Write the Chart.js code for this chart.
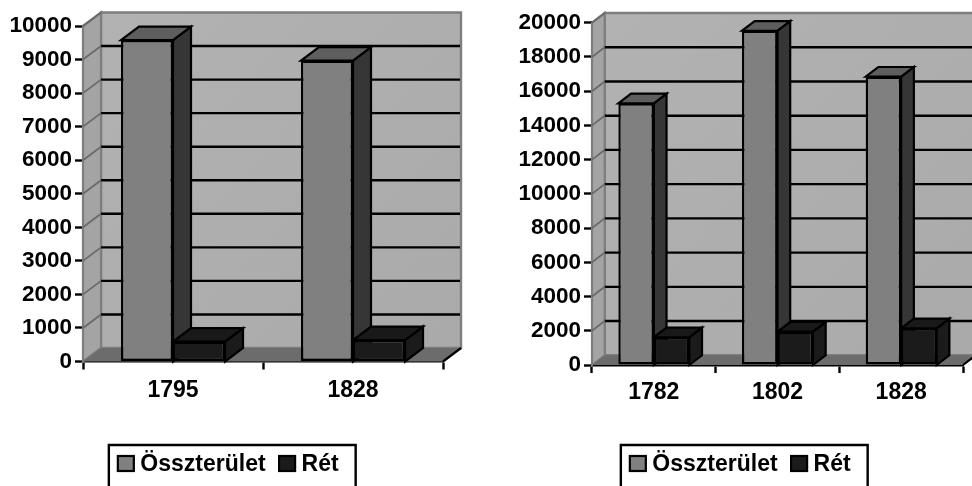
<!DOCTYPE html>
<html><head><meta charset="utf-8">
<script src="https://cdn.jsdelivr.net/npm/chart.js@4"></script>
<style>
html,body{margin:0;padding:0;background:#fff;overflow:hidden;width:972px;height:486px}
.wrap{position:absolute;top:0;height:486px;filter:blur(0.45px)}
</style></head><body>
<div class="wrap" style="left:8px;width:465px"><canvas id="c1"></canvas></div>
<div class="wrap" style="left:517px;width:455px"><canvas id="c2"></canvas></div>
<script>
const seriesNames = ['Összterület', 'Rét'];
const leftCategories = ['1795', '1828'];
const leftTotal = [9580, 8970];
const leftMeadow = [590, 640];
const rightCategories = ['1782', '1802', '1828'];
const rightTotal = [15290, 19530, 16845];
const rightMeadow = [1620, 1945, 2145];

const FONT = '"Liberation Sans", Arial, sans-serif';
const SKIN = [
  {front:'#808080', side:'#363636', top:'#5e5e5e'},
  {front:'#1b1b1b', side:'#1b1b1b', top:'#191919'}
];

function poly(ctx, pts, fill, stroke, lw){
  ctx.beginPath();
  pts.forEach((p,i)=> i?ctx.lineTo(p[0],p[1]):ctx.moveTo(p[0],p[1]));
  ctx.closePath();
  if(fill){ctx.fillStyle=fill;ctx.fill();}
  if(stroke){ctx.strokeStyle=stroke;ctx.lineWidth=lw;ctx.lineJoin='miter';ctx.stroke();}
}

const box3d = {
  id:'box3d',
  afterLayout(chart, args, o){
    chart.legend.left += o.legendShift;
    chart.legend.right += o.legendShift;
  },
  beforeDatasetsDraw(chart, args, o){
    const {ctx, chartArea:a, scales:{y}} = chart;
    const dx=o.dx, dy=o.dy;
    ctx.save();
    const grad = ctx.createLinearGradient(a.left+dx,a.top-dy,a.right+dx,a.bottom-dy);
    grad.addColorStop(0,'#b2b2b2'); grad.addColorStop(1,'#aaaaaa');
    poly(ctx,[[a.left+dx,a.top-dy],[a.right+dx,a.top-dy],[a.right+dx,a.bottom-dy],[a.left+dx,a.bottom-dy]],grad,'#7e7e7e',2.4);
    poly(ctx,[[a.left,a.top],[a.left+dx,a.top-dy],[a.left+dx,a.bottom-dy],[a.left,a.bottom]],'#a4a4a4','#7e7e7e',2.2);
    poly(ctx,[[a.left,a.bottom],[a.right,a.bottom],[a.right+dx,a.bottom-dy],[a.left+dx,a.bottom-dy]],'#6c6c6c');
    ctx.strokeStyle='#000';ctx.lineWidth=2.2;
    ctx.beginPath();ctx.moveTo(a.right,a.bottom);ctx.lineTo(a.right+dx,a.bottom-dy);ctx.stroke();
    y.ticks.forEach(t=>{
      const py=y.getPixelForValue(t.value);
      if(t.value===y.min) return;
      if(t.value!==y.max){
        ctx.strokeStyle='#000';ctx.lineWidth=2.4;
        ctx.beginPath();ctx.moveTo(a.left+dx,py-dy);ctx.lineTo(a.right+dx-1,py-dy);ctx.stroke();
      }
      ctx.strokeStyle='#6a6a6a';ctx.lineWidth=1.8;
      ctx.beginPath();ctx.moveTo(a.left,py);ctx.lineTo(a.left+dx,py-dy);ctx.stroke();
    });
    const n=chart.data.labels.length;
    for(let i=0;i<n;i++){
      chart.data.datasets.forEach((ds,d)=>{
        const el=chart.getDatasetMeta(d).data[i];
        const half=el.width/2, L=el.x-half, R=el.x+half, T=el.y, B=y.getPixelForValue(0);
        const s=SKIN[d];
        poly(ctx,[[R,B],[R+dx,B-dy],[R+dx,T-dy],[R,T]],s.side,'#000',2.2);
        poly(ctx,[[L,T],[R,T],[R+dx,T-dy],[L+dx,T-dy]],s.top,'#000',2.2);
      });
    }
    ctx.restore();
  },
  afterDraw(chart){
    const {ctx, legend} = chart;
    const hb=legend.legendHitBoxes;
    ctx.save();
    const first=hb[0], last=hb[hb.length-1];
    const x0=first.left-8.5, x1=last.left+last.width+17, yT=first.top-8;
    ctx.strokeStyle='#000';ctx.lineWidth=2.4;
    ctx.beginPath();ctx.moveTo(x0,chart.height);ctx.lineTo(x0,yT);ctx.lineTo(x1,yT);ctx.lineTo(x1,chart.height);ctx.stroke();
    hb.forEach((h,i)=>{
      ctx.fillStyle=SKIN[i].front;ctx.strokeStyle='#000';ctx.lineWidth=2.2;
      ctx.fillRect(h.left+.5,h.top+3,16,15);ctx.strokeRect(h.left+.5,h.top+3,16,15);
    });
    ctx.restore();
  }
};

function makeChart(id, labels, total, meadow, cfg){
  return new Chart(document.getElementById(id),{
    type:'bar',
    plugins:[box3d],
    data:{labels,datasets:[
      {label:seriesNames[0],data:total,backgroundColor:SKIN[0].front,borderColor:'#000',borderWidth:2.4,borderSkipped:false},
      {label:seriesNames[1],data:meadow,backgroundColor:SKIN[1].front,borderColor:'#000',borderWidth:2.4,borderSkipped:false}
    ]},
    options:{
      responsive:true,maintainAspectRatio:false,animation:false,
      layout:{padding:{top:cfg.top,right:cfg.right,left:0,bottom:0}},
      datasets:{bar:{categoryPercentage:cfg.cat,barPercentage:1}},
      plugins:{
        tooltip:{enabled:false},title:{display:false},
        box3d:{dx:cfg.dx,dy:cfg.dy,legendShift:cfg.legendShift},
        legend:{display:true,position:'bottom',onClick:null,
          labels:{color:'#000',font:{family:FONT,weight:'bold',size:23},boxWidth:11.5,boxHeight:12,padding:13,
            generateLabels:c=>c.data.datasets.map((ds,i)=>({text:ds.label,fillStyle:'rgba(0,0,0,0)',strokeStyle:'rgba(0,0,0,0)',lineWidth:0,datasetIndex:i}))}}
      },
      scales:{
        x:{
          afterFit(s){s.height=cfg.xh;},
          grid:{drawOnChartArea:false,drawTicks:true,tickLength:8,tickColor:'#000',tickWidth:2.4,offset:true},
          border:{color:'#000',width:2.6},
          ticks:{color:'#000',font:{family:FONT,weight:'bold',size:23},padding:cfg.xpad,maxRotation:0}
        },
        y:{
          min:0,max:cfg.max,
          afterFit(s){s.width=cfg.yw;},
          grid:{drawOnChartArea:false,drawTicks:true,tickLength:8,tickColor:'#000',tickWidth:2.4},
          border:{color:'#000',width:2.6},
          ticks:{color:'#000',font:{family:FONT,weight:'bold',size:22.5},stepSize:cfg.step,padding:3,autoSkip:false,callback:v=>String(v)}
        }
      }
    }
  });
}
makeChart('c1',leftCategories,leftTotal,leftMeadow,{top:26,right:30,yw:75,xh:78.5,xpad:7,max:10000,step:1000,cat:0.578,dx:18,dy:13.5,legendShift:2.5});
makeChart('c2',rightCategories,rightTotal,rightMeadow,{top:22.7,right:9,yw:75,xh:75,xpad:6,max:20000,step:2000,cat:0.574,dx:12.7,dy:9.7,legendShift:0});
</script>
</body></html>
